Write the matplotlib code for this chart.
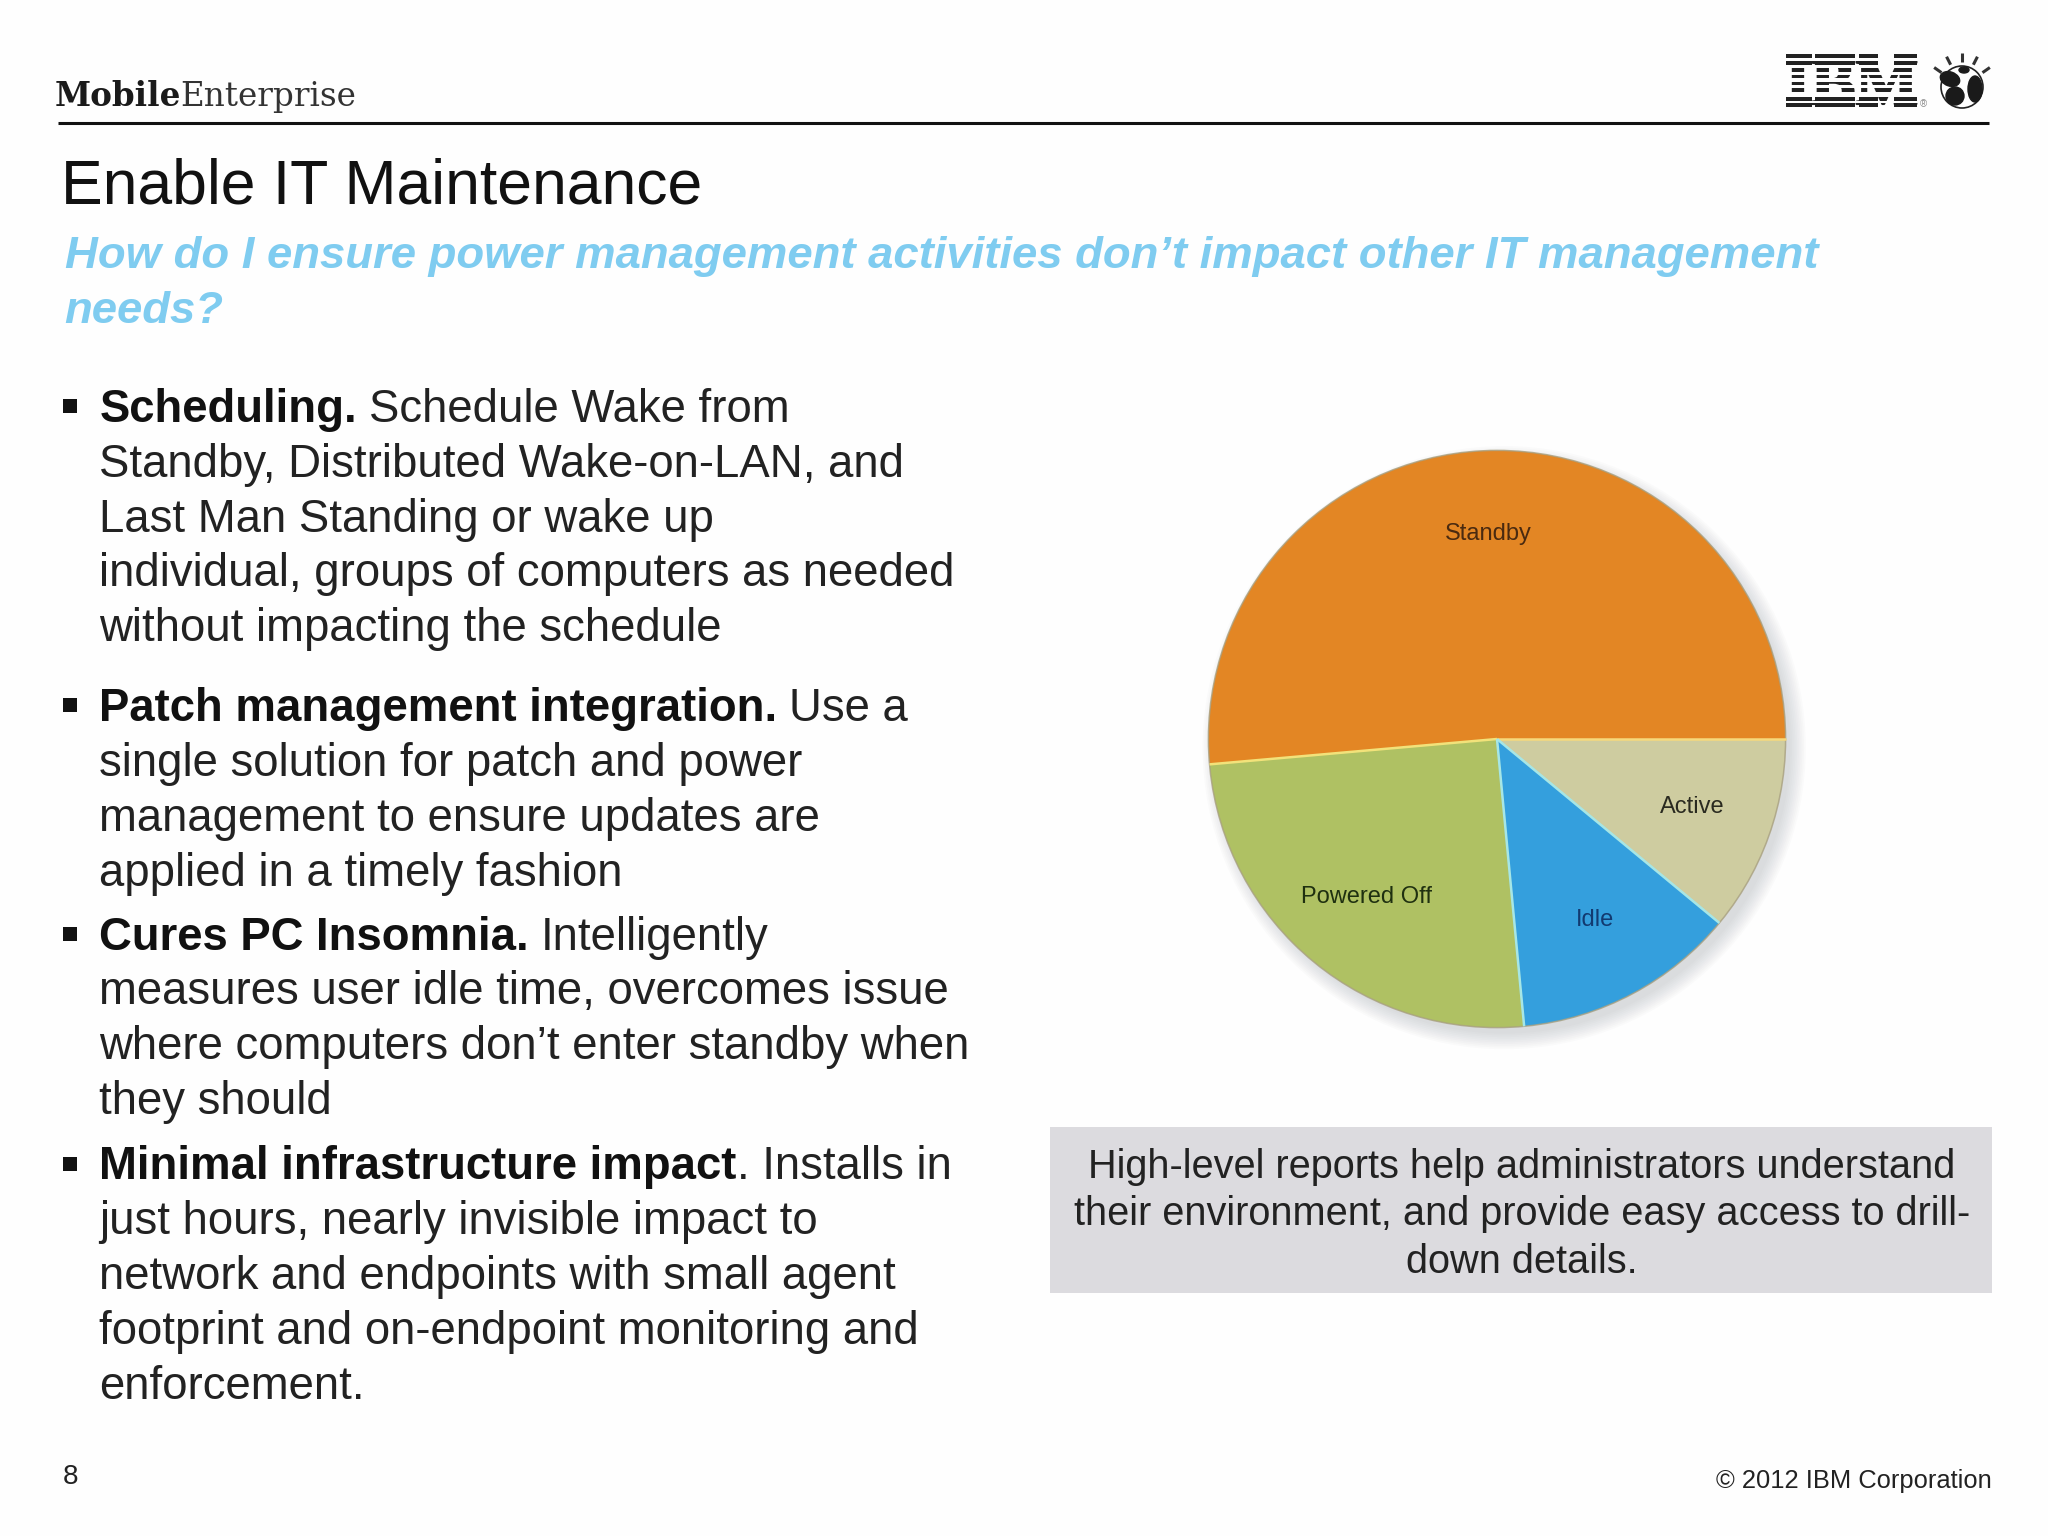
import matplotlib
matplotlib.use("Agg")
import matplotlib.pyplot as plt
from matplotlib.patches import Rectangle, Circle, Ellipse
import matplotlib.patheffects as pe
from math import cos, sin, radians

plt.rcParams['font.family'] = ['Liberation Sans', 'DejaVu Sans']

# pie data, counter clockwise from 3 o'clock
states = ["Standby", "Powered Off", "Idle", "Active"]
shares = [51.4, 25.1, 12.5, 11.0]
state_colors = ["#E38624", "#AFC163", "#349FDD", "#CECCA0"]
label_colors = ["#4A2A10", "#1F3010", "#123A70", "#2A2A20"]
label_pos = [(-0.03, 0.71), (-0.452, -0.548), (0.34, -0.628), (0.676, -0.234)]
sep_colors = ["#F6D97C", "#F2E27A", "#A6E6E6", "#A6E6E6"]  # line at the start of each wedge

title = "Enable IT Maintenance"
subtitle = ["How do I ensure power management activities don\u2019t impact other IT management", "needs?"]
caption = ["High-level reports help administrators understand",
           "their environment, and provide easy access to drill-",
           "down details."]
bullets = [
    (323, "Scheduling.", [" Schedule Wake from", "Standby, Distributed Wake-on-LAN, and",
                          "Last Man Standing or wake up", "individual, groups of computers as needed",
                          "without impacting the schedule"]),
    (552, "Patch management integration.", [" Use a", "single solution for patch and power",
                                            "management to ensure updates are", "applied in a timely fashion"]),
    (727, "Cures PC Insomnia.", [" Intelligently", "measures user idle time, overcomes issue",
                                 "where computers don\u2019t enter standby when", "they should"]),
    (903, "Minimal infrastructure impact", [". Installs in", "just hours, nearly invisible impact to",
                                            "network and endpoints with small agent",
                                            "footprint and on-endpoint monitoring and", "enforcement."]),
]

S = 2048 / 1568  # most positions were measured on the 1568 wide preview
BODY = 32.8

fig = plt.figure(figsize=(20.48, 15.36), dpi=100, facecolor="#FEFEFE")
bg = fig.add_axes([0, 0, 1, 1])
bg.set_xlim(0, 2048)
bg.set_ylim(1536, 0)
bg.axis("off")
renderer = fig.canvas.get_renderer()


def txt(x, y, s, size, **kw):
    return bg.text(x * S, y * S, s, fontsize=size, va="baseline", **kw)


# header
t = bg.text(55, 106, "Mobile", fontsize=23.5, family="DejaVu Serif", weight="bold", va="baseline", color="#1A1A1A")
x_end = t.get_window_extent(renderer).x1
bg.text(x_end - 1, 106, "Enterprise", fontsize=23.5, family="DejaVu Serif", va="baseline", color="#333333")
bg.plot([58, 1989], [123, 123], color="#111111", lw=2.2, solid_capstyle="butt")

# IBM logo, stripes laid over real text
bg.text(1785, 104, "IBM", fontsize=48, family="Liberation Serif", weight="bold", va="baseline", color="#222222",
        path_effects=[pe.withStroke(linewidth=1.5, foreground="#222222")])
for x0, x1 in [(1786, 1812), (1815, 1855), (1859, 1878), (1894, 1917)]:
    for y0, y1 in [(54, 57.5), (61, 65), (97, 101), (103, 107)]:
        bg.add_patch(Rectangle((x0, y0), x1 - x0, y1 - y0, color="#222222", lw=0, zorder=2))
for y0, y1 in [(57.5, 61), (65, 68.3), (71.7, 75), (78, 81.7), (85, 88), (91.7, 97), (101, 103)]:
    bg.add_patch(Rectangle((1780, y0), 145, y1 - y0, color="#FEFEFE", lw=0, zorder=3))
bg.text(1923, 107, "\u00ae", fontsize=7, ha="center", va="baseline", color="#888888", zorder=4)

# globe with rays
gx, gy, gr = 1962, 87, 21
bg.add_patch(Circle((gx, gy), gr, fc="#FEFEFE", ec="#222222", lw=1.2))
for ex, ey, ew, eh, ang in [(-12, -8, 20, 14, 20), (-7, 9, 18, 18, 0), (13, 2, 14, 26, 0), (2, -17, 10, 6, 0)]:
    bg.add_patch(Ellipse((gx + ex, gy + ey), ew, eh, angle=ang, color="#1A1A1A"))
for deg in (35, 63, 90, 117, 145):
    a = radians(deg)
    bg.plot([gx + 25 * cos(a), gx + 34 * cos(a)], [gy - 25 * sin(a), gy - 34 * sin(a)],
            color="#333333", lw=2.2, solid_capstyle="butt")

# headings
txt(46.5, 156, title, 45, color="#111111")
for i, line in enumerate(subtitle):
    txt(49.5, 205 + i * 42, line, 32.75, color="#7FCCF0", weight="bold", style="italic")

# bullet list
for y0, head, lines in bullets:
    bg.add_patch(Rectangle((48 * S, (y0 - 17.5) * S), 11 * S, 11 * S, color="#111111", lw=0))
    h = txt(76, y0, head, BODY, weight="bold", color="#111111")
    x1 = h.get_window_extent(renderer).x1
    rest = lines[0]
    pad = 0
    if rest.startswith(" "):
        pad = 12
        rest = rest[1:]
    bg.text(x1 + pad, y0 * S, rest, fontsize=BODY, va="baseline", color="#222222")
    for i, line in enumerate(lines[1:], start=1):
        txt(76, y0 + i * 42, line, BODY, color="#222222")

# caption box
bg.add_patch(Rectangle((804 * S, 863 * S), 721 * S, 127 * S, color="#DCDBDF", lw=0))
for y, line in zip((902, 938, 975), caption):
    txt(1165, y, line, 28.6, ha="center", color="#222222")

# footer
txt(48, 1136, "8", 20, color="#222222")
txt(1525, 1139, "\u00a9 2012 IBM Corporation", 18.4, ha="right", color="#222222")

# pie
cx, cy, r = 1497, 739, 288.6
pad = 1.15
ax = fig.add_axes([(cx - r * pad) / 2048, 1 - (cy + r * pad) / 1536, 2 * r * pad / 2048, 2 * r * pad / 1536])
ax.set_facecolor("none")
for k in range(10):
    ax.add_patch(Circle((0.025, -0.03), 1.045 - k * 0.006, color="#8A8F98", alpha=0.03, lw=0, zorder=0))
ax.pie(shares, colors=state_colors, startangle=0, counterclock=True, radius=1,
       wedgeprops={"linewidth": 0, "zorder": 1})
ax.add_patch(Circle((0, 0), 1, fc="none", ec="#A8A080", lw=1.1, alpha=0.8, zorder=2))
ang = 0
for share, col in zip(shares, sep_colors):
    a = radians(ang)
    ax.plot([0, cos(a)], [0, sin(a)], color=col, lw=1.8, zorder=3, solid_capstyle="butt")
    ang += share / sum(shares) * 360
for name, (lx, ly), col in zip(states, label_pos, label_colors):
    ax.text(lx, ly, name, fontsize=17, ha="center", va="center", color=col, zorder=4)
ax.set_xlim(-pad, pad)
ax.set_ylim(-pad, pad)
ax.set_aspect("equal")
ax.axis("off")

fig.savefig("out.png", dpi=100, facecolor=fig.get_facecolor())
